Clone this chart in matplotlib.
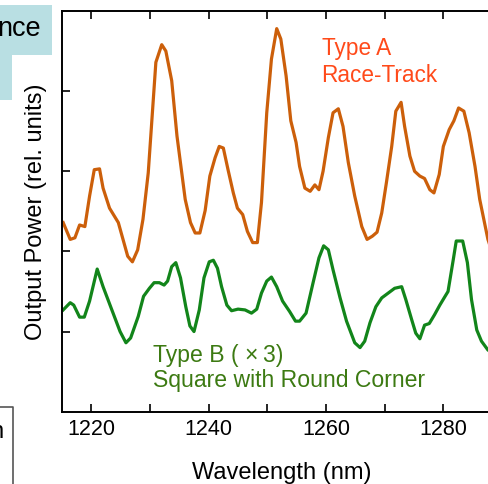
import matplotlib
matplotlib.use('Agg')
import matplotlib.pyplot as plt
from matplotlib.patches import Polygon
from matplotlib.lines import Line2D

plt.rcParams['font.family'] = ['Liberation Sans', 'DejaVu Sans']

# Type A (race-track) spectrum
wl_a = [1215.2, 1216.4, 1217.2, 1218.0, 1218.9, 1219.7, 1220.5, 1221.4, 1222.0, 1223.1,
        1224.6, 1226.2, 1227.0, 1227.9, 1228.8, 1229.7, 1231.0, 1232.0, 1232.7, 1233.7,
        1234.6, 1236.0, 1236.9, 1237.7, 1238.5, 1239.4, 1240.2, 1241.1, 1241.8, 1242.5,
        1243.3, 1244.2, 1244.9, 1245.8, 1246.6, 1247.5, 1248.3, 1249.0, 1249.9, 1250.7,
        1251.6, 1252.3, 1253.2, 1254.0, 1254.9, 1255.5, 1256.4, 1257.3, 1258.1, 1258.8,
        1259.5, 1260.4, 1261.2, 1262.1, 1262.9, 1263.8, 1264.9, 1266.1, 1267.0, 1267.9,
        1268.7, 1269.5, 1270.3, 1271.2, 1271.9, 1272.8, 1273.4, 1274.3, 1275.1, 1276.0,
        1276.8, 1277.7, 1278.4, 1279.3, 1280.0, 1281.0, 1281.8, 1282.6, 1283.5, 1284.4,
        1285.4, 1286.2, 1286.9, 1287.6, 1288.5]
pw_a = [2.36, 2.15, 2.17, 2.33, 2.31, 2.69, 3.02, 3.03, 2.79, 2.54,
        2.36, 1.94, 1.87, 2.02, 2.40, 2.98, 4.36, 4.58, 4.50, 4.13,
        3.44, 2.65, 2.36, 2.23, 2.23, 2.51, 2.94, 3.17, 3.31, 3.29,
        3.02, 2.73, 2.54, 2.46, 2.25, 2.11, 2.11, 2.61, 3.73, 4.40,
        4.78, 4.65, 4.19, 3.63, 3.36, 3.06, 2.79, 2.75, 2.83, 2.77,
        3.00, 3.42, 3.73, 3.78, 3.56, 3.11, 2.69, 2.31, 2.15, 2.19,
        2.24, 2.48, 2.86, 3.31, 3.75, 3.86, 3.56, 3.19, 3.00, 2.94,
        2.91, 2.77, 2.73, 2.96, 3.31, 3.52, 3.63, 3.79, 3.75, 3.48,
        3.06, 2.65, 2.40, 2.15, 1.95]

# Type B (square with round corner) spectrum, x3
wl_b = [1215.2, 1216.4, 1217.0, 1218.0, 1218.8, 1219.7, 1221.0, 1222.0, 1223.5, 1224.9,
        1225.9, 1226.7, 1228.0, 1228.9, 1229.9, 1230.7, 1231.6, 1232.4, 1233.0, 1233.7,
        1234.4, 1235.2, 1236.1, 1236.8, 1237.5, 1238.4, 1239.2, 1240.1, 1240.8, 1241.5,
        1242.2, 1243.1, 1243.9, 1245.0, 1246.2, 1247.3, 1248.2, 1249.0, 1249.9, 1250.7,
        1251.6, 1252.6, 1253.8, 1254.8, 1255.5, 1256.6, 1257.8, 1258.8, 1259.6, 1260.4,
        1261.2, 1262.4, 1263.5, 1264.9, 1265.8, 1266.6, 1267.5, 1268.5, 1269.5, 1270.6,
        1271.7, 1272.9, 1273.6, 1274.6, 1275.3, 1276.0, 1276.8, 1277.6, 1278.5, 1279.4,
        1280.3, 1280.8, 1281.7, 1282.2, 1283.3, 1284.1, 1284.8, 1285.7, 1286.5, 1287.6,
        1289.0]
pw_b = [1.27, 1.36, 1.33, 1.18, 1.18, 1.38, 1.78, 1.56, 1.27, 1.00,
        0.86, 0.92, 1.19, 1.44, 1.54, 1.61, 1.61, 1.58, 1.63, 1.81,
        1.86, 1.67, 1.31, 1.07, 1.00, 1.27, 1.67, 1.87, 1.89, 1.79,
        1.56, 1.33, 1.26, 1.28, 1.27, 1.23, 1.28, 1.48, 1.63, 1.68,
        1.56, 1.38, 1.25, 1.13, 1.13, 1.23, 1.61, 1.92, 2.07, 2.02,
        1.77, 1.42, 1.13, 0.86, 0.80, 0.88, 1.11, 1.31, 1.42, 1.48,
        1.54, 1.56, 1.40, 1.15, 0.98, 0.91, 1.08, 1.10, 1.21, 1.33,
        1.44, 1.50, 1.90, 2.13, 2.13, 1.86, 1.40, 1.02, 0.88, 0.77,
        0.70]

x_ticks = [1220, 1240, 1260, 1280]
x_minor = [1230, 1250, 1270]
y_ticks = [1, 2, 3, 4]

W, H = 488, 484
fig = plt.figure(figsize=(W / 100, H / 100), dpi=100)

# axes runs past the right edge of the picture (cropped panel)
ax = fig.add_axes([62 / W, (H - 411.7) / H, 440 / W, 400.7 / H])
ax.plot(wl_a, pw_a, color='#CC5F0A', lw=2.3)
ax.plot(wl_b, pw_b, color='#12851A', lw=2.3)
ax.set_xlim(1215, 1290)
ax.set_ylim(0, 5)

ax.set_xticks(x_ticks)
ax.set_xticks(x_minor, minor=True)
ax.set_yticks(y_ticks)
ax.set_yticklabels([])
ax.tick_params(which='both', direction='in', top=True, right=True,
               length=6, width=1.2, labelsize=15.5, pad=5)
for s in ax.spines.values():
    s.set_linewidth(1.4)

ax.set_xlabel('Wavelength (nm)', fontsize=17, labelpad=16)
ax.set_ylabel('Output Power (rel. units)', fontsize=17, labelpad=6)


def px(x, y):
    return x / W, 1 - y / H


fig.text(*px(321.5, 55), 'Type A', color='#FF4A1A', fontsize=16.3, va='baseline')
fig.text(*px(321.5, 82), 'Race-Track', color='#FF4A1A', fontsize=16.3, va='baseline')
fig.text(*px(153, 362), 'Type B ( \u00d7\u20093)', color='#3C7A12', fontsize=16.6, va='baseline')
fig.text(*px(153, 387.5), 'Square with Round Corner', color='#3C7A12', fontsize=16.6, va='baseline')

# fragments of neighbouring panels at the left edge
blue = Polygon([px(0, 5), px(52, 5), px(52, 55), px(11.7, 55), px(11.7, 100), px(0, 100)],
               closed=True, transform=fig.transFigure, facecolor='#B9DFE3', edgecolor='none',
               zorder=0)
fig.patches.append(blue)
fig.text(*px(41, 36), 'nce', fontsize=19.5, ha='right', va='baseline')

fig.lines.append(Line2D([0, 12.7 / W, 12.7 / W], [1 - 407 / H, 1 - 407 / H, 0],
                        transform=fig.transFigure, color='#555555', lw=1.2))
fig.text(*px(4, 438), 'n', fontsize=17, ha='right', va='baseline')

fig.savefig('out.png', dpi=100)
